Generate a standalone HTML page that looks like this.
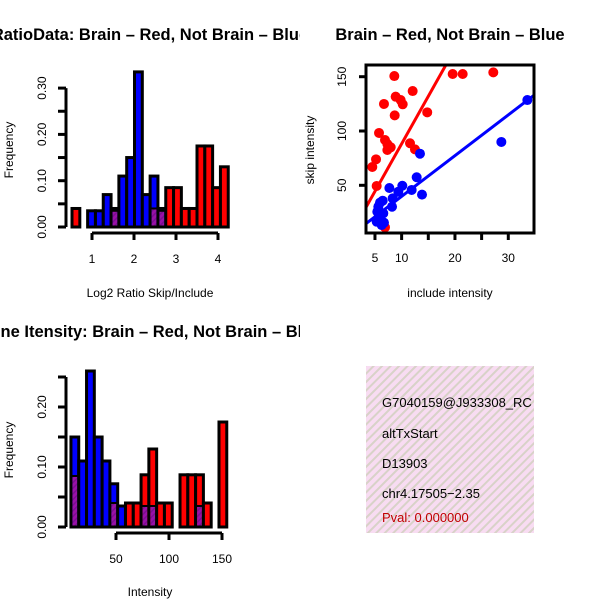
<!DOCTYPE html>
<html><head><meta charset="utf-8"><style>
html,body{margin:0;padding:0;background:#fff;}
svg{display:block;font-family:"Liberation Sans",sans-serif;}
</style></head><body>
<svg id="c" width="600" height="600" viewBox="0 0 600 600">
<defs>
<clipPath id="clipL"><rect x="0" y="0" width="300" height="600"/></clipPath>
<clipPath id="clipS"><rect x="366" y="65" width="168" height="168"/></clipPath>
<pattern id="hatch" width="6" height="6" patternUnits="userSpaceOnUse" patternTransform="rotate(45)">
<rect width="6" height="6" fill="#f8dcf2"/><rect width="2" height="6" fill="#d8d2c8"/></pattern>
<pattern id="purp" width="4" height="4" patternUnits="userSpaceOnUse" patternTransform="rotate(45)">
<rect width="4" height="4" fill="#9a10a8"/><rect width="1.5" height="4" fill="#7a1090"/></pattern>
</defs>
<g id="root"></g>
</svg>
<script>
// Ratio histogram (20 bins)
const ratioBlue=[0,0,0.035,0.035,0.07,0.04,0.11,0.15,0.335,0.07,0.11,0.04,0,0,0,0,0,0,0,0];
const ratioRed=[0.04,0,0,0,0,0.035,0,0,0,0,0.04,0.035,0.085,0.085,0.04,0.04,0.175,0.175,0.085,0.13];
const ratioStart=0.524, ratioWidth=0.186;
const ratioXTicks=[1,2,3,4];
const ratioYTicks=[0,0.05,0.1,0.15,0.2,0.25,0.3];
const ratioYLabels=["0.00","","0.10","","0.20","","0.30"];
// Intensity histogram
const intBlue=[0.15,0.11,0.26,0.15,0.11,0.072,0.035,0,0,0.035,0.035,0,0,0,0,0,0.035,0,0,0];
const intRed=[0.085,0,0,0,0,0.04,0,0.04,0.04,0.087,0.13,0.04,0.04,0,0.087,0.087,0.087,0.04,0,0.175];
const intStart=7.5, intWidth=7.35;
const intXTicks=[50,100,150];
const intYTicks=[0,0.05,0.1,0.15,0.2,0.25];
const intYLabels=["0.00","","0.10","","0.20",""];
// Scatter
const redX=[8.63,19.57,21.45,27.19,12.07,8.88,9.82,10.2,6.69,8.7,14.8,5.76,6.88,7.32,7.95,7.32,11.57,12.5,5.2,4.5,5.32,6.88];
const redY=[150.6,152.5,152.5,154,136.8,131.6,128.5,124.6,124.9,114.4,117.2,98.2,91.7,88,85,82.5,88.7,83.1,73.9,66.9,49.4,11.3];
const blueX=[33.57,28.7,13.44,12.82,10.13,9.38,11.88,13.82,7.7,8.32,8.2,6.45,5.94,5.63,5.44,5.94,6.69,5.32,6.26,6.56];
const blueY=[128.5,89.9,79.1,57.4,49.6,44.1,45.7,41.4,47.5,38,30.3,35.8,34,30.3,25.7,21.1,15.6,16.5,13.4,24.2];
const fitRed=[0.7,8.75]; // intercept, slope
const fitBlue=[2.3,3.75];
const scX=[5,10,15,20,25,30], scXLabels=["5","10","","20","","30"];
const scY=[50,100,150];

const NS="http://www.w3.org/2000/svg", root=document.getElementById('root');
function mk(tag,attrs,parent){const e=document.createElementNS(NS,tag);for(const k in attrs)e.setAttribute(k,attrs[k]);(parent||root).appendChild(e);return e;}
function txt(s,x,y,opt,parent){const e=mk('text',Object.assign({x:x,y:y,'font-size':12,'text-anchor':'middle'},opt||{}),parent);e.textContent=s;return e;}

function hist(blue,red,start,width,xs,ys,xTicks,yTicks,yLabels,axY,prefix){
  const g=mk('g',{});
  
  
  for(let i=0;i<blue.length;i++){
    const x0=xs(start+i*width), x1=xs(start+(i+1)*width);
    const b=blue[i], r=red[i];
    const top=Math.max(b,r);
    if(top<=0)continue;
    const fill=r>b?'#ff0000':'#0000ff';
    const e=mk('rect',{x:x0,y:ys(top),width:x1-x0,height:ys(0)-ys(top),fill:fill,stroke:'#000','stroke-width':3},g);
    
    
    if(b>0&&r>0){const m=Math.min(b,r);
      const o=mk('rect',{x:x0+1.5,y:ys(m),width:x1-x0-3,height:ys(0)-ys(m)-1.5,fill:'url(#purp)'},g);
      
      
      mk('line',{x1:x0,x2:x1,y1:ys(m),y2:ys(m),stroke:'#000','stroke-width':2},g);}
  }
  const ya=mk('g',{});
  
  
  mk('line',{x1:66,x2:66,y1:ys(yTicks[0]),y2:ys(yTicks[yTicks.length-1]),stroke:'#000','stroke-width':3},ya);
  yTicks.forEach((t,i)=>{mk('line',{x1:58,x2:66,y1:ys(t),y2:ys(t),stroke:'#000','stroke-width':3},ya);
    if(yLabels[i]){const e=txt(yLabels[i],0,0,{transform:`translate(46,${ys(t)}) rotate(-90)`},ya);
      
      }});
  const xa=mk('g',{});
  
  
  mk('line',{x1:xs(xTicks[0]),x2:xs(xTicks[xTicks.length-1]),y1:axY,y2:axY,stroke:'#000','stroke-width':3},xa);
  xTicks.forEach(t=>{mk('line',{x1:xs(t),x2:xs(t),y1:axY,y2:axY+7,stroke:'#000','stroke-width':3},xa);
    const e=txt(String(t),xs(t),axY+30,{},xa);
    
    });
}
hist(ratioBlue,ratioRed,ratioStart,ratioWidth,v=>92+(v-1)*42,v=>227-v*463,ratioXTicks,ratioYTicks,ratioYLabels,233,'ratio');
hist(intBlue,intRed,intStart,intWidth,v=>116+(v-50)*1.06,v=>527-v*600,intXTicks,intYTicks,intYLabels,533,'intensity');

let e;
e=txt('RatioData: Brain \u2013 Red, Not Brain \u2013 Blue',150,40,{'font-size':16.5,'font-weight':'bold','clip-path':'url(#clipL)'});


e=txt('Gene Itensity: Brain \u2013 Red, Not Brain \u2013 Blue',150,337,{'font-size':16.5,'font-weight':'bold','clip-path':'url(#clipL)'});


e=txt('Brain \u2013 Red, Not Brain \u2013 Blue',450,40,{'font-size':16.5,'font-weight':'bold'});


e=txt('Frequency',0,0,{transform:'translate(13,150) rotate(-90)'});


e=txt('Frequency',0,0,{transform:'translate(13,450) rotate(-90)'});


e=txt('Log2 Ratio Skip/Include',150,297);


e=txt('Intensity',150,596);


e=txt('skip intensity',0,0,{transform:'translate(314,150) rotate(-90)'});


e=txt('include intensity',450,297);



const sx=v=>348.3+v*5.333, sy=v=>239.6-v*1.086;
const sg=mk('g',{'clip-path':'url(#clipS)'});


[[fitRed,'#ff0000','red-fit-line'],[fitBlue,'#0000ff','blue-fit-line']].forEach(([f,c,n])=>{
  const l=mk('line',{x1:sx(0),y1:sy(f[0]),x2:sx(40),y2:sy(f[0]+f[1]*40),stroke:c,'stroke-width':3},sg);
  
  });
redX.forEach((x,i)=>{const c=mk('circle',{cx:sx(x),cy:sy(redY[i]),r:5,fill:'#ff0000'},sg);
  
  });
blueX.forEach((x,i)=>{const c=mk('circle',{cx:sx(x),cy:sy(blueY[i]),r:5,fill:'#0000ff'},sg);
  
  });
e=mk('rect',{x:366,y:65,width:168,height:168,fill:'none',stroke:'#000','stroke-width':3});


scX.forEach((t,i)=>{mk('line',{x1:sx(t),x2:sx(t),y1:233,y2:240,stroke:'#000','stroke-width':3});
  if(scXLabels[i]){const l=txt(scXLabels[i],sx(t),262);
    
    }});
scY.forEach(t=>{mk('line',{x1:359,x2:366,y1:sy(t),y2:sy(t),stroke:'#000','stroke-width':3});
  const l=txt(String(t),0,0,{transform:`translate(346,${sy(t)}) rotate(-90)`});
  
  });

e=mk('rect',{x:366,y:366,width:168,height:167,fill:'url(#hatch)'});


const cp=mk('clipPath',{id:'clipI'});mk('rect',{x:366,y:366,width:168,height:167},cp);
const ig=mk('g',{'clip-path':'url(#clipI)'});
[['G7040159@J933308_RC',407,'#000','gene-id'],['altTxStart',438,'#000','event-type'],['D13903',468,'#000','accession'],['chr4.17505\u22122.35',498,'#000','location'],['Pval: 0.000000',522,'#c00000','p-value']].forEach(([s,y,c,n])=>{
  const t=txt(s,382,y,{'text-anchor':'start',fill:c,'font-size':13},ig);
  
  });
</script>
</body></html>
